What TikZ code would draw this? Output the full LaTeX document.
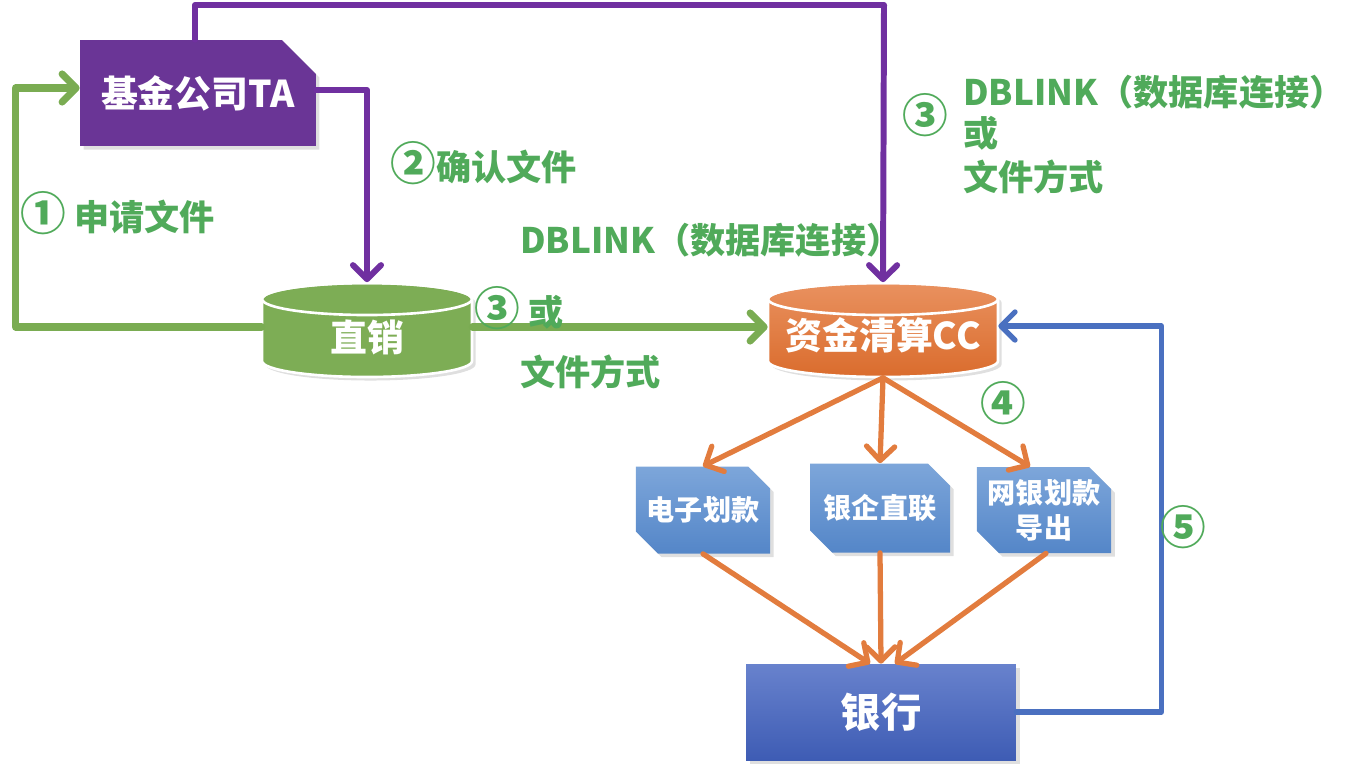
\documentclass[tikz,border=0pt]{standalone}
\usepackage{fontspec}
\setmainfont{Noto Sans CJK SC}
\usetikzlibrary{positioning,calc,arrows.meta,shapes.misc,shadows}
\definecolor{taPurple}{RGB}{106,53,150}
\definecolor{linePurple}{RGB}{112,48,160}
\definecolor{lineGreen}{RGB}{122,172,82}
\definecolor{textGreen}{RGB}{80,170,90}
\definecolor{zxGreen}{RGB}{125,173,85}
\definecolor{ccTop}{RGB}{233,145,95}
\definecolor{ccBot}{RGB}{218,108,45}
\definecolor{boxTop}{RGB}{125,166,218}
\definecolor{boxBot}{RGB}{84,134,200}
\definecolor{bankTop}{RGB}{104,130,205}
\definecolor{bankBot}{RGB}{62,92,180}
\definecolor{lineBlue}{RGB}{74,112,192}
\definecolor{lineOrange}{RGB}{226,124,62}
\newcommand{\cnum}[1]{{\fontsize{26}{26}\selectfont #1}}
% cylinder body: centre x, centre y, half width, half height (px), fill options
\newcommand{\dbshape}[5]{%
  \path[#5, drop shadow={opacity=0.25, shadow xshift=2pt, shadow yshift=-2pt}]
    (#1-#3, #2-#4+16) -- (#1-#3, #2+#4-16)
    arc[start angle=180, end angle=360, x radius=#3*0.02cm, y radius=0.32cm]
    -- (#1+#3, #2-#4+16)
    arc[start angle=0, end angle=180, x radius=#3*0.02cm, y radius=0.32cm] -- cycle;
  \draw[white, line width=1.5pt] (#1, #2-#4+16) ellipse[x radius=#3*0.02cm, y radius=0.32cm];
}

\begin{document}
\begin{tikzpicture}[x=0.02cm,y=-0.02cm, every node/.style={inner sep=0pt}]

  \tikzset{
    shade/.style={drop shadow={opacity=0.25, shadow xshift=2pt, shadow yshift=-2pt}},
    bigtxt/.style={font=\bfseries\fontsize{21}{25}\selectfont, text=white},
    tabox/.style={chamfered rectangle, chamfered rectangle corners=north east,
      chamfered rectangle xsep=0.34cm, chamfered rectangle ysep=0.34cm,
      minimum width=4.72cm, minimum height=2.12cm, fill=taPurple, shade, bigtxt},
    dbtext/.style={rectangle, minimum height=1.9cm, text depth=0.06cm, bigtxt},
    payway/.style={chamfered rectangle, chamfered rectangle corners={north east,south west},
      chamfered rectangle xsep=0.22cm, chamfered rectangle ysep=0.22cm,
      top color=boxTop, bottom color=boxBot, shade, text=white,
      font=\bfseries\fontsize{16}{20}\selectfont, align=center},
    bankbox/.style={rectangle, minimum width=5.4cm, minimum height=1.92cm,
      top color=bankTop, bottom color=bankBot, shade, text=white,
      font=\bfseries\fontsize{23}{27}\selectfont},
    lbl/.style={font=\bfseries\fontsize{20}{24}\selectfont, text=textGreen},
    arr/.style={-{Straight Barb[length=8pt,width=16pt,round]}, line cap=round, line join=round},
    gline/.style={arr, draw=lineGreen, line width=4pt},
    pline/.style={arr, draw=linePurple, line width=3.4pt},
    oline/.style={arr, draw=lineOrange, line width=3pt},
    bline/.style={arr, draw=lineBlue, line width=3pt}
  }

  \path[use as bounding box] (0,0) rectangle (1364,772);

  % systems
  \node[tabox] (ta) at (198,93) {基金公司TA};
  \dbshape{367}{330}{105}{47}{fill=zxGreen, draw=white, line width=1.5pt}
  \node[dbtext, minimum width=4.2cm, text height=0.9cm] (zx) at (367,330) {直销};
  \dbshape{883}{330}{115}{47}{top color=ccTop, bottom color=ccBot, draw=white, line width=1.5pt}
  \node[dbtext, minimum width=4.6cm, text height=0.82cm] (cc) at (883,330) {资金清算CC};

  % payment ways
  \node[payway, minimum width=2.6cm, minimum height=1.74cm] (dz) at (703,510) {电子划款};
  \node[payway, minimum width=2.8cm, minimum height=1.78cm] (yq) at (880,508) {银企直联};
  \node[payway, minimum width=2.48cm, minimum height=1.72cm] (wy) at (1044,510) {网银划款\\导出};

  \node[bankbox] (bank) at (881,712) {银行};

  % connectors
  \coordinate (topbend) at (884,5);
  \draw[gline] ($(zx.west)+(0,-3)$) -- ++(-246,0) |- ($(ta.west)+(0,-5)$);
  \draw[pline] ($(ta.north)+(-3,0)$) |- (topbend) -- (cc.north);
  \draw[pline] ($(ta.east)+(0,-3)$) -| (zx.north);
  \draw[gline] ($(zx.east)+(0,-3)$) -- ($(cc.west)+(0,-3)$);
  \draw[bline] (bank.east) -- ++(145,0) |- ($(cc.east)+(0,-4)$);

  \draw[oline] (cc.south) -- (dz.north);
  \draw[oline] (cc.south) -- (yq.north);
  \draw[oline] (cc.south) -- ($(wy.north)+(-14,0)$);
  \draw[oline] (dz.south) -- ($(bank.north)+(-11,0)$);
  \draw[oline] (yq.south) -- (bank.north);
  \draw[oline] ($(wy.south)+(2,0)$) -- ($(bank.north)+(14,0)$);

  % labels
  \node[lbl, anchor=west] (lapply) at (20,213) {\cnum{①} 申请文件};
  \node[lbl, anchor=west] (lconfirm) at (390,163) {\cnum{②}确认文件};
  \node[lbl, anchor=west] (ldbA) at (520,240) {DBLINK（数据库连接）};
  \node[lbl, anchor=west] (lorA) at (474,308) {\cnum{③} 或};
  \node[lbl, anchor=west] (lfileA) at (520,372) {文件方式};
  \node[lbl] (lthree) at (925,115) {\cnum{③}};
  \node[lbl, anchor=west] (ldbB) at (963,92) {DBLINK（数据库连接）};
  \node[lbl, anchor=west] (lorB) at (963,133) {或};
  \node[lbl, anchor=west] (lfileB) at (963,177) {文件方式};
  \node[lbl] (lfour) at (1003,403) {\cnum{④}};
  \node[lbl] (lfive) at (1183,527) {\cnum{⑤}};

\end{tikzpicture}
\end{document}
